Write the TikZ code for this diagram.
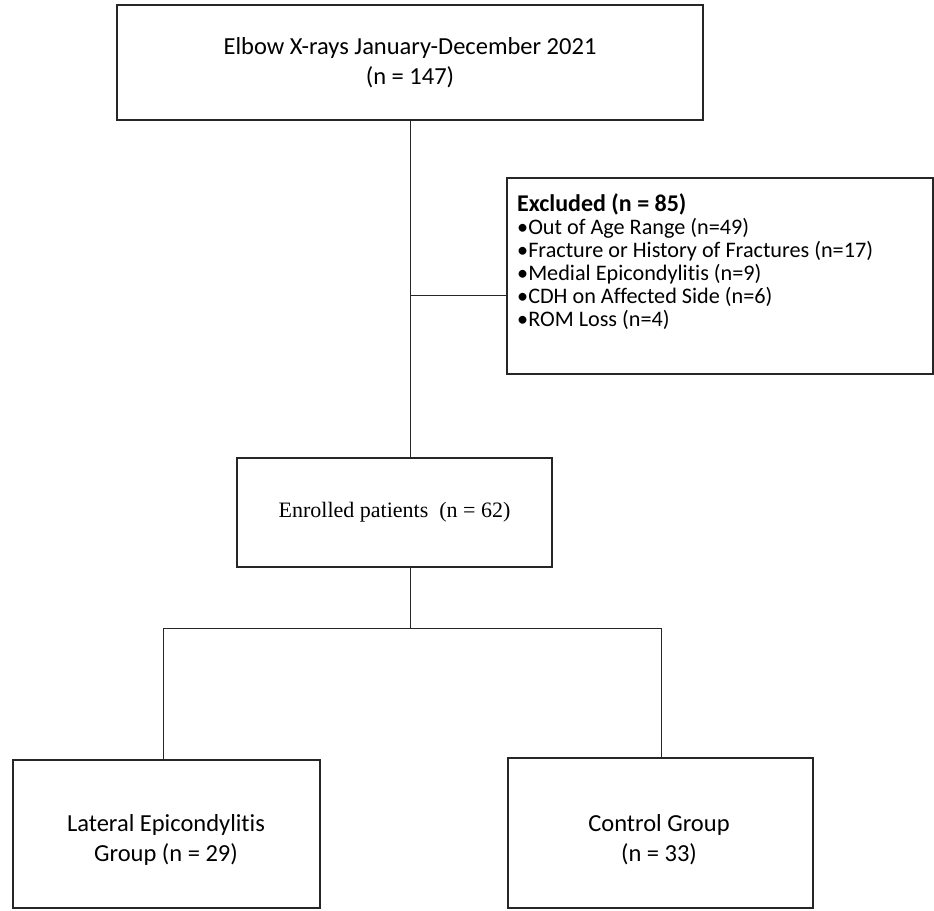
\documentclass[tikz,border=0pt]{standalone}
\usepackage{fontspec}
\setmainfont{Carlito}[Ligatures=NoCommon]
\newfontfamily\timesf{Liberation Serif}
\begin{document}
\begin{tikzpicture}[x=1pt,y=-1pt,
  box/.style={draw=black!85,line width=1.3pt,inner sep=0pt},
  conn/.style={draw=black!85,line width=0.9pt},
  calib/.style={font=\fontsize{24.5}{30}\selectfont}]
\useasboundingbox (0,0) rectangle (934,910);
% boxes
\node[box,minimum width=586pt,minimum height=115pt,align=center,calib] (top) at (410,62.5)
  {Elbow X-rays January-December 2021\\(n = 147)};
\node[box,minimum width=426pt,minimum height=196pt] (excl) at (720,276) {};
\node[anchor=north west,align=left,inner sep=0pt,
  font=\fontsize{22.2}{23}\selectfont] (exclt) at (517,193)
  {\textbf{\fontsize{24}{23}\selectfont Excluded (n = 85)}\\
   •Out of Age Range (n=49)\\
   •Fracture or History of Fractures (n=17)\\
   •Medial Epicondylitis (n=9)\\
   •CDH on Affected Side (n=6)\\
   •ROM Loss (n=4)};
\node[box,minimum width=315pt,minimum height=109pt,
  font=\timesf\fontsize{22}{25}\selectfont] (enr) at (394.5,512.5)
  {Enrolled patients\ \ (n = 62)};
\node[box,minimum width=307pt,minimum height=148pt] (lat) at (166.5,834) {};
\node[align=center,calib,inner sep=0pt] (latt) at (166,840)
  {Lateral Epicondylitis\\Group (n = 29)};
\node[box,minimum width=305pt,minimum height=150pt] (ctrl) at (660.5,833) {};
\node[align=center,calib,inner sep=0pt] (ctrlt) at (659,840)
  {Control Group\\(n = 33)\hspace{14pt}};
% junctions
\coordinate (j1) at (410,295);
\coordinate (j2) at (410,628);
\coordinate (jl) at (163,628);
\coordinate (jr) at (661,628);
% connectors
\draw[conn] (top.south) -- (top.south |- enr.north);
\draw[conn] (j1) -- (j1 -| excl.west);
\draw[conn] (top.south |- enr.south) -- (j2);
\draw[conn] (jl) -- (jr);
\draw[conn] (jl) -- (jl |- lat.north);
\draw[conn] (jr) -- (jr |- ctrl.north);
\end{tikzpicture}
\end{document}
